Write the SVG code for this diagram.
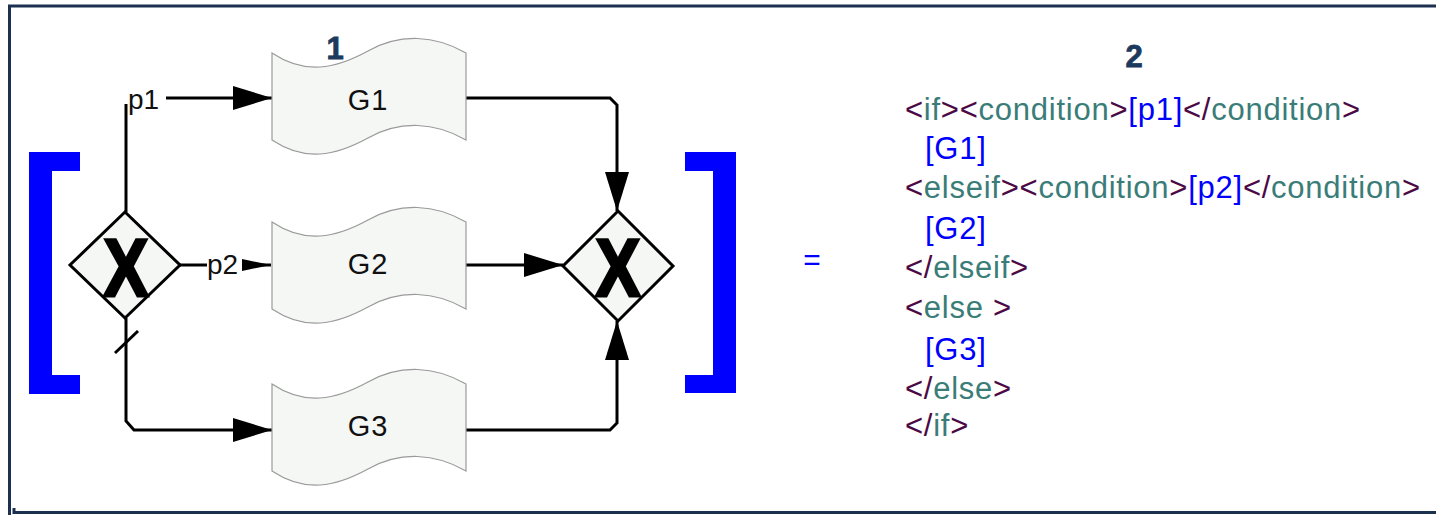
<svg xmlns="http://www.w3.org/2000/svg" xmlns:xlink="http://www.w3.org/1999/xlink" width="1436" height="515" viewBox="0 0 1436 515">
  <style>
    .frame { stroke: #1c3150; stroke-width: 3; fill: none; }
    .bracket { fill: #0000ff; }
    .doc { fill: #f5f7f5; stroke: #9a9a9a; stroke-width: 1.2; }
    .gw { fill: #f5f7f5; stroke: #000; stroke-width: 3; stroke-linejoin: miter; }
    .gwx { font-family: "Liberation Sans", Arial, sans-serif; font-weight: bold; font-size: 82px; fill: #000; stroke: #000; stroke-width: 3; stroke-linejoin: miter; }
    .lbl { font-family: "Liberation Sans", Arial, sans-serif; font-size: 28px; fill: #111; }
    .glbl { font-family: "Liberation Sans", Arial, sans-serif; font-size: 29px; fill: #111; letter-spacing: 1px; }
    .num { font-family: "Liberation Sans", Arial, sans-serif; font-weight: bold; font-size: 31px; fill: #1c3a5e; stroke: #1c3a5e; stroke-width: 0.8; }
    .flow { stroke: #000; stroke-width: 3; fill: none; }
    .code { font-family: "Liberation Sans", Arial, sans-serif; font-size: 31px; letter-spacing: 0.75px; }
    .pun { fill: #4b0a45; }
    .tag { fill: #3a7d78; }
    .ref { fill: #0000ff; }
  </style>
  <defs>
    <marker id="arrow" markerUnits="userSpaceOnUse" markerWidth="40" markerHeight="26" refX="39" refY="12" orient="auto">
      <path d="M0,0 L39,12 L0,24 Z" fill="#000"/>
    </marker>
    <marker id="arrowSmall" markerUnits="userSpaceOnUse" markerWidth="30" markerHeight="14" refX="29" refY="6" orient="auto">
      <path d="M0,0 L29,6 L0,12 Z" fill="#000"/>
    </marker>
    <path id="docShape" class="doc" d="M0,0 C33,22 63,16 96,-2 C128,-20 163,-18 194,0 L194,87 C163,69 128,67 96,85 C63,103 33,109 0,87 Z"/>
  </defs>

  <rect width="1436" height="515" fill="#fff"/>

  <!-- outer frame -->
  <g id="frame">
    <path class="frame" d="M9.5,515 L9.5,6 L1436,6"/>
    <path class="frame" d="M14,508 L14,512.5 L1436,512.5"/>
  </g>

  <!-- section numbers -->
  <text class="num" x="335" y="59" text-anchor="middle">1</text>
  <text class="num" x="1134" y="67" text-anchor="middle">2</text>

  <!-- square brackets around the block -->
  <g id="bracket-left">
    <path class="bracket" d="M29,152 L80,152 L80,171 L52,171 L52,375 L80,375 L80,394 L29,394 Z"/>
  </g>
  <g id="bracket-right">
    <path class="bracket" d="M685,152 L736,152 L736,393 L685,393 L685,375 L713,375 L713,171 L685,171 Z"/>
  </g>

  <!-- connectors -->
  <g id="connectors">
    <path class="flow" d="M126,212 L126,104"/>
    <path class="flow" d="M166,98 L272,98" marker-end="url(#arrow)"/>
    <path class="flow" d="M179,265 L207,265"/>
    <path class="flow" d="M242,265 L271,265" marker-end="url(#arrowSmall)"/>
    <path class="flow" d="M126,318 L126,421 L134,430 L272,430" marker-end="url(#arrow)"/>
    <path class="flow" d="M115,353 L138,331" stroke-width="2.5"/>
    <path class="flow" d="M466,98 L610,98 L617,105 L617,211" marker-end="url(#arrow)"/>
    <path class="flow" d="M466,265 L563,265" marker-end="url(#arrow)"/>
    <path class="flow" d="M466,430 L610,430 L617,423 L617,321" marker-end="url(#arrow)"/>
    <text class="lbl" x="128" y="109">p1</text>
    <text class="lbl" x="207" y="274">p2</text>
  </g>

  <!-- split gateway -->
  <g id="gateway-split">
    <path class="gw" d="M125,212 L180,265 L125,318 L70,265 Z"/>
    <text class="gwx" text-anchor="middle" transform="translate(126,296) scale(0.82,1)">X</text>
  </g>

  <!-- join gateway -->
  <g id="gateway-join">
    <path class="gw" d="M618,211 L673,266 L618,321 L563,266 Z"/>
    <text class="gwx" text-anchor="middle" transform="translate(618,296) scale(0.82,1)">X</text>
  </g>

  <!-- branch documents -->
  <g id="G1">
    <use xlink:href="#docShape" transform="translate(272,53)"/>
    <text class="glbl" x="368" y="110" text-anchor="middle">G1</text>
  </g>
  <g id="G2">
    <use xlink:href="#docShape" transform="translate(272,222)"/>
    <text class="glbl" x="368" y="274" text-anchor="middle">G2</text>
  </g>
  <g id="G3">
    <use xlink:href="#docShape" transform="translate(272,384)"/>
    <text class="glbl" x="368" y="436" text-anchor="middle">G3</text>
  </g>

  <!-- equals sign -->
  <text x="812" y="270" text-anchor="middle" font-family="Liberation Sans, Arial, sans-serif" font-size="30" fill="#0000ff">=</text>

  <!-- equivalent XML form -->
  <g id="code" class="code">
    <text x="905" y="120"><tspan class="pun">&lt;</tspan><tspan class="tag">if</tspan><tspan class="pun">&gt;&lt;</tspan><tspan class="tag">condition</tspan><tspan class="pun">&gt;</tspan><tspan class="ref">[p1]</tspan><tspan class="pun">&lt;/</tspan><tspan class="tag">condition</tspan><tspan class="pun">&gt;</tspan></text>
    <text x="925" y="159" class="ref">[G1]</text>
    <text x="905" y="198"><tspan class="pun">&lt;</tspan><tspan class="tag">elseif</tspan><tspan class="pun">&gt;&lt;</tspan><tspan class="tag">condition</tspan><tspan class="pun">&gt;</tspan><tspan class="ref">[p2]</tspan><tspan class="pun">&lt;/</tspan><tspan class="tag">condition</tspan><tspan class="pun">&gt;</tspan></text>
    <text x="925" y="239" class="ref">[G2]</text>
    <text x="905" y="278"><tspan class="pun">&lt;/</tspan><tspan class="tag">elseif</tspan><tspan class="pun">&gt;</tspan></text>
    <text x="905" y="318"><tspan class="pun">&lt;</tspan><tspan class="tag">else </tspan><tspan class="pun">&gt;</tspan></text>
    <text x="925" y="360" class="ref">[G3]</text>
    <text x="905" y="399"><tspan class="pun">&lt;/</tspan><tspan class="tag">else</tspan><tspan class="pun">&gt;</tspan></text>
    <text x="905" y="436"><tspan class="pun">&lt;/</tspan><tspan class="tag">if</tspan><tspan class="pun">&gt;</tspan></text>
  </g>
</svg>
